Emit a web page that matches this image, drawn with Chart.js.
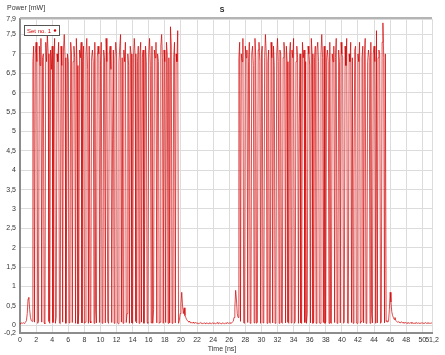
<!DOCTYPE html>
<html>
<head>
<meta charset="utf-8">
<script src="https://cdn.jsdelivr.net/npm/chart.js@4/dist/chart.umd.min.js"></script>
<style>
  body { margin: 0; background: #fff; }
</style>
</head>
<body>
<canvas id="myChart" width="445" height="355"></canvas>
<script>
// sampling of the trace (ns)
const startTime = 0
const timeStep = 0.1

// power values [mW], one row per ns
const powerValues = [
  0.05,0.04,0.06,0.05,0.07,0.05,0.06,0.08,0.12,0.3, // 0
  0.68,0.72,0.4,0.2,0.12,0.1,6.8,7.2,0.08,7.0, // 1
  7.3,6.8,0.05,0.1,7.2,6.7,7.4,0.08,6.9,7.0, // 2
  0.06,0.04,7.3,6.8,7.5,7.0,0.1,0.05,7.1,6.6, // 3
  7.2,0.07,6.9,7.4,0.05,0.2,7.0,6.8,7.3,0.06, // 4
  0.04,7.2,6.7,0.08,7.1,7.5,6.9,0.05,3.1,7.0, // 5
  6.8,0.06,0.1,7.3,7.0,0.07,6.8,7.2,6.9,0.05, // 6
  7.4,6.7,0.04,0.3,7.1,6.9,7.3,0.06,6.8,7.2, // 7
  0.05,0.08,7.0,7.4,6.6,0.05,7.2,0.1,0.06,6.9, // 8
  7.1,6.8,0.05,7.3,0.4,0.06,6.9,7.2,7.0,0.07, // 9
  6.7,7.3,0.05,0.08,7.1,6.9,0.06,7.4,6.8,0.1, // 10
  0.05,7.0,7.2,6.6,0.07,4.8,7.1,0.05,6.9,7.3, // 11
  7.0,0.06,0.04,6.8,7.2,7.5,0.08,6.9,0.05,7.1, // 12
  6.8,7.3,0.07,0.3,7.0,6.7,0.05,7.2,7.0,0.06, // 13
  0.05,6.9,7.4,7.0,0.1,0.06,6.8,7.2,0.05,7.0, // 14
  7.3,0.08,6.9,7.1,0.05,2.6,7.2,6.8,0.07,0.05, // 15
  7.0,7.4,6.7,0.06,7.2,0.05,0.4,7.1,6.9,7.3, // 16
  0.06,7.0,6.8,0.05,0.08,7.2,7.5,6.9,0.05,7.1, // 17
  6.8,0.07,7.3,7.0,0.05,6.9,0.06,7.7,7.2,0.05, // 18
  0.1,6.9,7.3,0.06,7.0,6.8,7.6,0.05,0.12,0.3, // 19
  0.55,0.85,0.5,0.3,0.45,0.25,0.2,0.15,0.12,0.1, // 20
  0.08,0.1,0.06,0.07,0.05,0.08,0.06,0.05,0.07,0.06, // 21
  0.05,0.06,0.04,0.05,0.07,0.05,0.06,0.04,0.05,0.06, // 22
  0.05,0.04,0.06,0.05,0.04,0.06,0.05,0.05,0.04,0.06, // 23
  0.05,0.06,0.05,0.04,0.05,0.07,0.05,0.04,0.06,0.05, // 24
  0.04,0.05,0.06,0.05,0.04,0.05,0.06,0.05,0.07,0.05, // 25
  0.06,0.05,0.07,0.06,0.08,0.1,0.2,0.45,0.9,0.65, // 26
  0.3,0.2,6.9,7.3,0.1,7.0,6.8,7.4,0.06,0.05, // 27
  7.2,6.9,7.1,0.07,6.8,7.3,0.05,0.1,7.0,7.2, // 28
  6.7,0.06,7.4,6.9,0.05,0.08,7.1,7.3,6.8,0.05, // 29
  7.0,7.2,0.06,0.3,6.9,7.5,7.0,0.05,6.8,7.1, // 30
  0.07,0.05,7.3,6.9,0.06,7.2,6.7,0.05,0.1,7.0, // 31
  7.4,6.8,0.05,7.1,7.0,0.07,0.05,6.9,7.3,7.0, // 32
  0.06,7.2,6.8,0.08,0.05,7.0,7.3,0.06,7.1,6.9, // 33
  7.4,0.05,0.1,6.8,7.2,6.9,0.05,5.2,7.0,0.06, // 34
  0.05,7.3,6.9,7.1,0.07,6.8,0.05,0.3,7.2,7.0, // 35
  6.7,0.06,7.4,7.0,0.05,0.08,6.9,7.2,0.05,7.1, // 36
  7.3,6.8,0.06,0.05,7.0,7.5,6.9,0.07,7.2,0.05, // 37
  0.1,6.9,7.1,6.8,0.05,7.3,0.06,0.05,7.0,6.8, // 38
  7.2,0.07,6.9,7.4,0.05,0.4,7.1,6.8,0.06,7.3, // 39
  7.0,6.9,0.05,0.08,7.2,6.7,7.4,0.06,0.05,7.0, // 40
  6.8,7.3,0.07,6.9,0.05,3.8,7.1,7.2,0.06,0.05, // 41
  7.0,6.8,7.3,0.05,0.1,6.9,7.2,0.06,7.0,7.4, // 42
  0.05,0.07,6.8,7.1,6.9,0.05,7.3,0.3,0.06,7.0, // 43
  7.2,6.8,0.05,7.6,0.06,6.9,7.1,7.0,0.05,0.08, // 44
  7.3,7.8,6.9,0.06,7.0,0.1,0.12,0.08,0.1,0.4, // 45
  0.85,0.6,0.35,0.25,0.2,0.15,0.2,0.12,0.1,0.08, // 46
  0.1,0.07,0.08,0.06,0.09,0.07,0.06,0.08,0.05,0.07, // 47
  0.06,0.05,0.07,0.06,0.05,0.06,0.07,0.05,0.06,0.05, // 48
  0.05,0.06,0.05,0.07,0.05,0.06,0.05,0.06,0.05,0.06, // 49
  0.06,0.05,0.06,0.05,0.07,0.05,0.06,0.05,0.06,0.05, // 50
  0.05,0.06,0.05 // 51
]

// tick labels
const xTicks = [0,2,4,6,8,10,12,14,16,18,20,22,24,26,28,30,32,34,36,38,40,42,44,46,48,50,51.2]
const yTicks = [-0.2,0,0.5,1,1.5,2,2.5,3,3.5,4,4.5,5,5.5,6,6.5,7,7.5,7.9]

const chartTitle = 'S'
const seriesName = 'Set no. 1'
const xTitle = 'Time [ns]'
const yTitle = 'Power [mW]'

let points = powerValues.map((v, i) => ({ x: startTime + i * timeStep, y: v }))

let tickFont = { family: 'Liberation Sans', size: 7 }
let comma = (value) => String(value).replace('.', ',')

//extra texts, frame and legend box
let decorations = {
	id: 'decorations',
	afterDraw(chart) {
		let ctx = chart.ctx
		let area = chart.chartArea
		ctx.save()
		//top frame line
		ctx.strokeStyle = '#b4b4b4'
		ctx.lineWidth = 2
		ctx.beginPath()
		ctx.moveTo(area.left, area.top - 1)
		ctx.lineTo(area.right, area.top - 1)
		ctx.stroke()

		ctx.fillStyle = '#222'
		ctx.font = 'bold 7px "Liberation Sans"'
		ctx.textAlign = 'center'
		ctx.textBaseline = 'middle'
		ctx.fillText(chartTitle, 222, 10)

		ctx.font = '7px "Liberation Sans"'
		ctx.fillStyle = '#333'
		ctx.textAlign = 'left'
		ctx.fillText(yTitle, 7, 8)
		ctx.textAlign = 'center'
		ctx.fillText(xTitle, 222, 349)

		//legend
		ctx.fillStyle = '#fff'
		ctx.fillRect(24.5, 25.5, 35, 10)
		ctx.strokeStyle = '#555'
		ctx.lineWidth = 1
		ctx.strokeRect(24.5, 25.5, 35, 10)
		ctx.fillStyle = '#d00000'
		ctx.textAlign = 'left'
		ctx.font = '6px "Liberation Sans"'
		ctx.fillText(chart.data.datasets[0].label, 27, 31)
		ctx.beginPath()
		ctx.arc(55, 30.5, 1.2, 0, Math.PI * 2)
		ctx.fill()
		ctx.restore()
	}
}

let config = {
	type: 'line',
	data: {
		datasets: [
			{
				label: seriesName,
				data: points,
				borderColor: 'rgba(210,0,0,0.7)',
				borderWidth: 1,
				pointRadius: 0,
				tension: 0,
				fill: false
			}
		]
	},
	options: {
		responsive: false,
		animation: false,
		events: [],
		layout: { padding: { top: 19, right: 13, left: 0, bottom: 0 } },
		plugins: {
			legend: { display: false },
			title: { display: false },
			tooltip: { enabled: false }
		},
		scales: {
			x: {
				type: 'linear',
				min: 0,
				max: 51.2,
				afterBuildTicks: (scale) => {
					scale.ticks = xTicks.map((v) => ({ value: v }))
				},
				afterFit: (scale) => {
					scale.height = 22
				},
				ticks: {
					autoSkip: false,
					maxRotation: 0,
					padding: 3,
					font: tickFont,
					color: '#333',
					callback: comma
				},
				grid: { color: '#dcdcdc', lineWidth: 1, drawTicks: false },
				border: { color: '#8c8c8c', width: 2 }
			},
			y: {
				min: -0.2,
				max: 7.9,
				afterBuildTicks: (scale) => {
					scale.ticks = yTicks.map((v) => ({ value: v }))
				},
				afterFit: (scale) => {
					scale.width = 20
				},
				ticks: {
					autoSkip: false,
					padding: 4,
					font: tickFont,
					color: '#333',
					callback: comma
				},
				grid: { color: '#dcdcdc', lineWidth: 1, drawTicks: false },
				border: { color: '#8c8c8c', width: 2 }
			}
		}
	},
	plugins: [decorations]
}

let chart = new Chart(document.getElementById('myChart').getContext('2d'), config)
</script>
</body>
</html>
